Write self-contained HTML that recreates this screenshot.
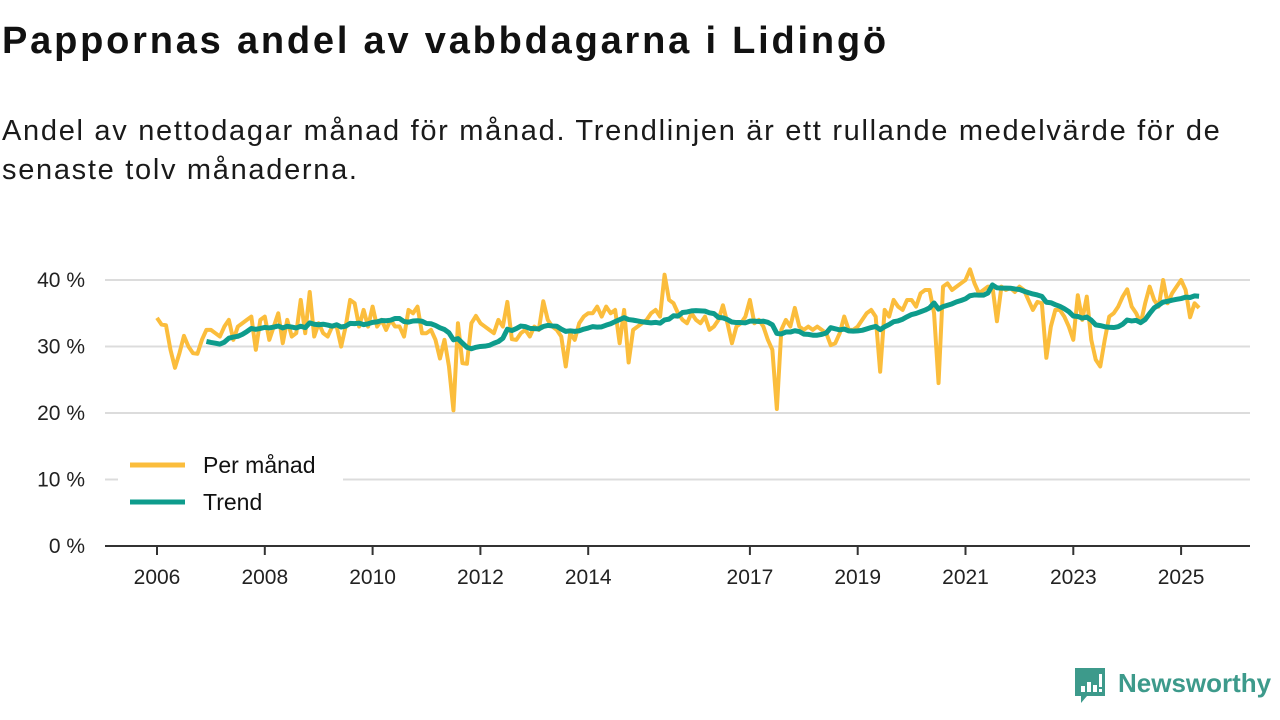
<!DOCTYPE html>
<html><head><meta charset="utf-8">
<style>
body{margin:0;width:1280px;height:720px;background:#fff;font-family:"Liberation Sans","DejaVu Sans",sans-serif;color:#111;overflow:hidden;position:relative}
#title{position:absolute;left:2px;top:20px;font-size:38px;letter-spacing:2.8px;font-weight:bold;margin:0;color:#111;white-space:nowrap}
#sub{position:absolute;left:2px;top:112px;font-size:29px;letter-spacing:1.7px;line-height:39px;width:1245px;color:#1a1a1a}
#logo{position:absolute;left:1073px;top:666px}
#brand{position:absolute;left:1118px;top:668px;font-size:26px;font-weight:bold;color:#3d9a8b;white-space:nowrap}
</style></head><body>
<h1 id="title">Pappornas andel av vabbdagarna i Lidingö</h1>
<div id="sub">Andel av nettodagar månad för månad. Trendlinjen är ett rullande medelvärde för de senaste tolv månaderna.</div>
<svg id="chart" width="1280" height="720" style="position:absolute;left:0;top:0"></svg>
<svg id="logo" width="34" height="40">
<path d="M2 2h30v28h-18l-6 7v-7h-6z" fill="#3d9a8b"/>
<rect x="8" y="20" width="4" height="6" fill="#fff"/><rect x="14" y="16" width="4" height="10" fill="#fff"/><rect x="20" y="19" width="4" height="7" fill="#fff"/><rect x="26" y="8" width="3" height="13" fill="#fff"/><rect x="26" y="23" width="3" height="3" fill="#fff"/>
</svg>
<div id="brand">Newsworthy</div>
<script>
const startYear = 2006;
const monthly = [
34.3,33.3,33.2,29.5,26.8,29,31.6,30,29,28.9,31,32.5,
32.5,32,31.5,33,34,31,33,33.5,34,34.5,29.5,34,
34.5,31,33,35,30.5,34,31.5,32,37,32,38.2,31.5,
33.5,32,31.5,33,33,30,33,37,36.5,33,35.5,33,
36,33,34,32.5,34,33,33,31.5,35.5,35,36,32,
32,32.5,31,28.2,31,27,20.4,33.5,27.5,27.4,33.5,34.6,
33.5,33,32.5,32,34,33,36.7,31.1,31,32,32.5,31.5,
33,32.5,36.8,34,33,32.5,31.5,27,32,31,33.5,34.5,
35,35,36,34.5,36,35,35.5,30.5,35.5,27.6,32.5,33,
33.5,34,35,35.5,34.5,40.8,37,36.5,35,34,33.5,35,
34,33.5,34.5,32.5,33,34,36.2,33.5,30.5,33,33.5,34.5,
37,33.5,34,33,31,29.5,20.6,32.5,34,33,35.8,33,
32.5,33,32.5,33,32.5,32,30.2,30.5,32,34.5,32.5,32.5,
33,34,35,35.5,34.5,26.2,35.5,34.5,37,36,35.5,37,
37,36,38,38.5,38.5,35,24.5,39,39.5,38.5,39,39.5,
40,41.6,39.5,38,38.5,39,39,33.8,39,38.5,38.8,38.2,
39,38.5,37,35.5,36.7,36.5,28.3,33,35.5,35.5,34.5,33,
31,37.7,34,37.5,31,28,27,31,34.5,35,36,37.5,
38.6,36,35,33.5,36.5,39,37,36,40,36.5,38,39,
40,38.5,34.4,36.5,35.8];
const yTicks = [0,10,20,30,40];
const xTickYears = [2006,2008,2010,2012,2014,2017,2019,2021,2023,2025];
const windowSize = 12;

const NS='http://www.w3.org/2000/svg';
const svg=document.getElementById('chart');
const X0=157, PXY=53.9, Y0=546, PXV=6.65, XL=105, XR=1250;
const xs=t=>X0+(t-startYear)*PXY;
const ys=v=>Y0-v*PXV;
function mk(tag,attrs){const e=document.createElementNS(NS,tag);for(const k in attrs)e.setAttribute(k,attrs[k]);svg.appendChild(e);return e;}

yTicks.forEach(v=>{
  if(v>0){const g=mk('line',{x1:XL,x2:XR,y1:ys(v),y2:ys(v),stroke:'#dcdcdc','stroke-width':2});
  
  }
  const t=mk('text',{x:85,y:ys(v)+7,'text-anchor':'end','font-size':21,fill:'#222','font-family':'Liberation Sans, sans-serif'});
  t.textContent=v+' %';
  
  
});
const ax=mk('line',{x1:XL,x2:XR,y1:Y0,y2:Y0,stroke:'#333','stroke-width':2});


xTickYears.forEach(yr=>{
  const tk=mk('line',{x1:xs(yr),x2:xs(yr),y1:Y0,y2:Y0+9,stroke:'#333','stroke-width':2});
  
  
  const t=mk('text',{x:xs(yr),y:584,'text-anchor':'middle','font-size':21,fill:'#222','font-family':'Liberation Sans, sans-serif'});
  t.textContent=yr;
  
  
});

const mp=monthly.map((v,i)=>[xs(startYear+i/12),ys(v)]);
const l1=mk('polyline',{points:mp.map(p=>p.join(',')).join(' '),fill:'none',stroke:'#fbbd3c','stroke-width':4,'stroke-linejoin':'round'});



const tp=[];
for(let i=windowSize-1;i<monthly.length;i++){let s=0;for(let j=i-windowSize+1;j<=i;j++)s+=monthly[j];tp.push([xs(startYear+i/12),ys(s/windowSize)]);}
const l2=mk('polyline',{points:tp.map(p=>p.join(',')).join(' '),fill:'none',stroke:'#0e9c8c','stroke-width':5,'stroke-linejoin':'round'});



const lb=mk('rect',{x:118,y:447,width:225,height:75,fill:'#fff'});


[['Per månad','#fbbd3c',465],['Trend','#0e9c8c',502]].forEach(([n,c,y])=>{
  const l=mk('line',{x1:130,x2:185,y1:y,y2:y,stroke:c,'stroke-width':5});
  
  
  const t=mk('text',{x:203,y:y+8,'font-size':23,fill:'#111','font-family':'Liberation Sans, sans-serif'});
  t.textContent=n;
  
  
});
</script>
</body></html>
